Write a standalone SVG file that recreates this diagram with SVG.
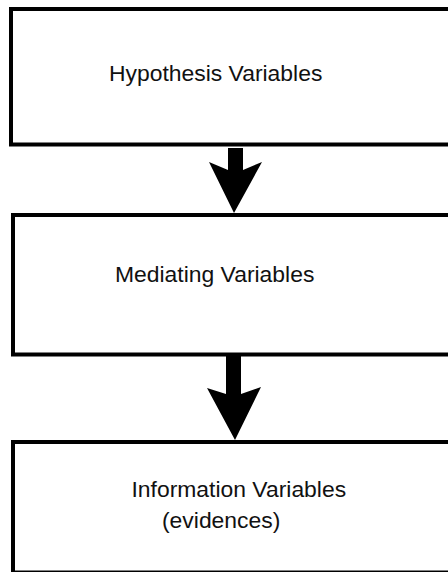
<svg xmlns="http://www.w3.org/2000/svg" width="448" height="572" viewBox="0 0 448 572">
  <style>
    .box { fill: #ffffff; stroke: #000000; stroke-width: 4; }
    .label { font-family: "Liberation Sans", Arial, sans-serif; font-size: 22.9px; fill: #111111; }
    .arrow { fill: #000000; stroke: none; }
  </style>
  <rect x="0" y="0" width="448" height="572" fill="#ffffff"/>

  <g id="hypothesis">
    <rect class="box" x="11" y="9" width="460" height="135.5"/>
    <text class="label" x="109" y="81">Hypothesis Variables</text>
  </g>

  <g id="mediating">
    <rect class="box" x="13" y="215" width="460" height="139.5"/>
    <text class="label" x="115" y="282">Mediating Variables</text>
  </g>

  <g id="information">
    <rect class="box" x="13" y="442" width="460" height="130.5"/>
    <text class="label" x="131.5" y="497">Information Variables</text>
    <text class="label" x="162" y="528">(evidences)</text>
  </g>

  <g id="connectors">
    <polygon class="arrow" points="228,148 243,148 243,170 262,162 234,213 209,162 228,170"/>
    <polygon class="arrow" points="226,356 241,356 241,394 261,387 235,440 207,388 226,394"/>
  </g>
</svg>
